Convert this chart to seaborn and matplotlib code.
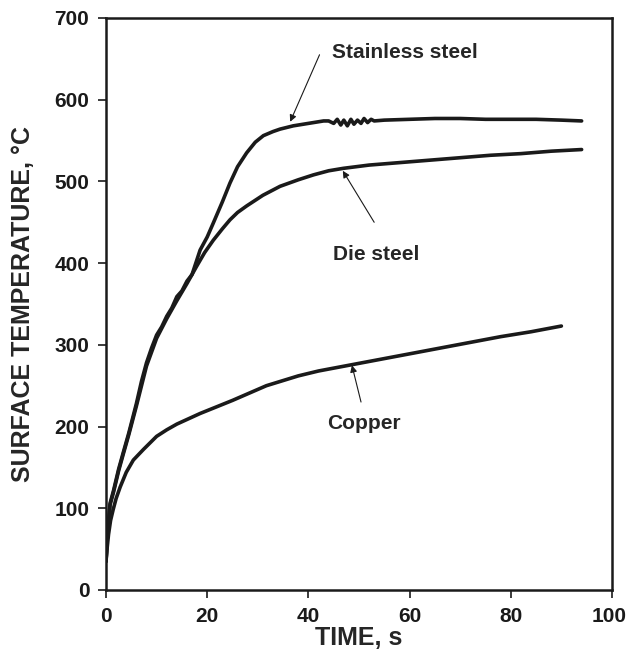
import matplotlib
matplotlib.use("Agg")
import matplotlib.pyplot as plt
import matplotlib.transforms as mtransforms
import seaborn as sns
import pandas as pd

# Stainless steel
ss_t = [0, 0.3, 0.8, 1.5, 2.5, 3.4, 4.5, 6, 7, 8, 9, 10, 11, 12, 13, 14, 15, 16, 17, 18.6, 20, 21.2, 23, 24.5, 26, 27.8,
        29.5, 31.1, 33, 34.4, 37, 41, 43, 44, 45, 45.7, 46.4, 47, 47.7, 48.4, 49, 49.7, 50.4, 51, 51.7, 52.4, 53, 55, 60,
        65, 70, 75, 80, 85, 90, 94]
ss_T = [35, 70, 106, 122, 148, 168, 192, 228, 255, 278, 296, 312, 322, 335, 345, 359, 366, 378, 386, 416, 432, 449, 475, 498, 518, 535,
        548, 556, 561, 564, 568, 572, 574, 574, 571, 576, 569, 575, 568, 576, 570, 575, 571, 577, 572, 576, 574, 575, 576,
        577, 577, 576, 576, 576, 575, 574]
# Die steel
ds_t = [0, 0.3, 0.8, 1.5, 2.5, 3.4, 4.5, 6, 8, 10, 12, 14, 16, 17.9, 19.5, 21.2, 23, 24.5, 26, 27.8, 31, 34.4, 38, 41, 44, 46.9,
        52, 58, 64, 70, 76, 82, 88, 94]
ds_T = [35, 68, 104, 120, 146, 166, 190, 225, 274, 308, 332, 354, 375, 396, 413, 428, 442, 453, 462, 470, 483, 494, 502, 508, 513, 516,
        520, 523, 526, 529, 532, 534, 537, 539]
# Copper
cu_t = [0, 0.2, 0.5, 0.9, 1.4, 2, 2.8, 4, 5.4, 7.4, 10, 12, 14, 18.6, 25, 31.7, 38, 42, 48, 54, 60, 66, 72, 78, 84, 90]
cu_T = [35, 50, 68, 85, 98, 112, 126, 144, 159, 172, 188, 196, 203, 216, 232, 250, 262, 268, 275, 282, 289, 296, 303, 310, 316, 323]

x_ticks = [0, 20, 40, 60, 80, 100]
y_ticks = [0, 100, 200, 300, 400, 500, 600, 700]

df = pd.concat([
    pd.DataFrame({"t": ss_t, "T": ss_T, "m": "Stainless steel"}),
    pd.DataFrame({"t": ds_t, "T": ds_T, "m": "Die steel"}),
    pd.DataFrame({"t": cu_t, "T": cu_T, "m": "Copper"}),
])

sns.set_theme(style="ticks")
plt.rcParams['font.family'] = ['Liberation Sans', 'DejaVu Sans']

fig = plt.figure(figsize=(6.28, 6.54), dpi=100)
ax = fig.add_axes([0.1688, 0.0979, 0.8057, 0.8746])
sns.lineplot(data=df, x="t", y="T", units="m", estimator=None, color="#1a1a1a",
             linewidth=2.6, sort=False, ax=ax, legend=False)

ax.set_xlim(0, 100)
ax.set_ylim(0, 700)
ax.set_xticks(x_ticks)
ax.set_yticks(y_ticks)
ax.tick_params(direction="out", length=6, width=1.2, colors="#1a1a1a", labelsize=15)
ax.tick_params(axis="y", pad=6)
ax.tick_params(axis="x", pad=6)
for lab in ax.get_xticklabels() + ax.get_yticklabels():
    lab.set_fontweight("bold")
last = ax.get_xticklabels()[-1]
last.set_transform(last.get_transform() + mtransforms.ScaledTranslation(-3 / 100, 0, fig.dpi_scale_trans))
for sp in ax.spines.values():
    sp.set_visible(True)
    sp.set_linewidth(1.8)
    sp.set_color("#1a1a1a")
ax.set_xlabel("TIME, s", fontsize=18, fontweight="bold", labelpad=0)
ax.set_ylabel("SURFACE TEMPERATURE, °C", fontsize=18, fontweight="bold", labelpad=14)

arrow = dict(arrowstyle="-|>", color="#1a1a1a", lw=0.8, mutation_scale=10, shrinkA=0, shrinkB=0)
ax.annotate("", xy=(36.4, 573), xytext=(42.2, 655), arrowprops=arrow)
ax.text(59.1, 658, "Stainless steel", fontsize=15, fontweight="bold", ha="center", va="center")
ax.annotate("", xy=(46.8, 513), xytext=(53.0, 450), arrowprops=arrow)
ax.text(53.3, 410, "Die steel", fontsize=15, fontweight="bold", ha="center", va="center")
ax.annotate("", xy=(48.6, 275), xytext=(50.4, 230), arrowprops=arrow)
ax.text(51.0, 204, "Copper", fontsize=15, fontweight="bold", ha="center", va="center")

fig.savefig("out.png", dpi=100)
